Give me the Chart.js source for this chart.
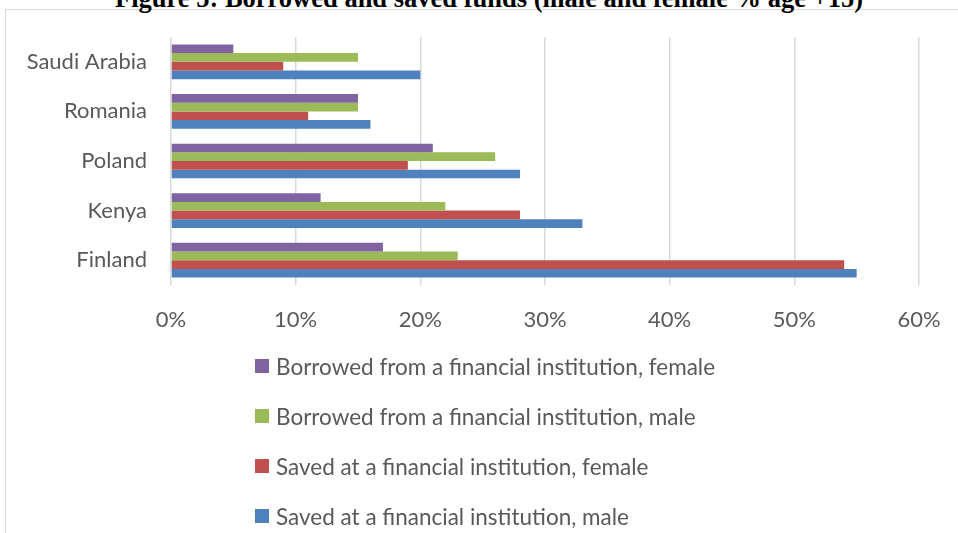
<!DOCTYPE html>
<html>
<head>
<meta charset="utf-8">
<script src="https://cdn.jsdelivr.net/npm/chart.js@4.4.0/dist/chart.umd.min.js"></script>
<style>
  body { margin: 0; background: #fff; }
  #wrap { position: relative; width: 958px; height: 533px; overflow: hidden; }
  #frame { position: absolute; left: 5px; top: 9px; width: 1000px; height: 600px; border: 1px solid #d9d9d9; }
  #title { position: absolute; left: 0; width: 978px; top: -15px; text-align: center;
           font: bold 26.5px "Liberation Serif"; line-height: 26.5px; white-space: nowrap; color: #000; }
  #chart { position: absolute; left: 0; top: 0; }
  #legend { position: absolute; left: 255px; top: 341px; font-family: Lato; font-size: 22.5px; color: #595959; }
  .item { height: 50px; display: flex; align-items: center; }
  .box { width: 14px; height: 14px; margin-right: 7px; }
</style>
</head>
<body>
<div id="wrap">
  <div id="frame"></div>
  <div id="title">Figure 5: Borrowed and saved funds (male and female % age +15)</div>
  <canvas id="chart" width="958" height="533"></canvas>
  <div id="legend"></div>
</div>
<script>
// data, top category first
const countries = ['Saudi Arabia', 'Romania', 'Poland', 'Kenya', 'Finland'];
const borrowedFemale = [5, 15, 21, 12, 17];
const borrowedMale = [15, 15, 26, 22, 23];
const savedFemale = [9, 11, 19, 28, 54];
const savedMale = [20, 16, 28, 33, 55];
const seriesNames = [
  'Borrowed from a financial institution, female',
  'Borrowed from a financial institution, male',
  'Saved at a financial institution, female',
  'Saved at a financial institution, male'
];
const seriesColors = ['#8064A2', '#9BBB59', '#C0504D', '#4F81BD'];
const xMax = 60;
const xStep = 10;

const labelFont = { family: 'Lato', size: 22 };
const textColor = '#595959';

const allSeries = [borrowedFemale, borrowedMale, savedFemale, savedMale];

const ctx = document.getElementById('chart').getContext('2d');
const chart = new Chart(ctx, {
  type: 'bar',
  data: {
    labels: countries,
    datasets: allSeries.map((vals, i) => ({
      label: seriesNames[i],
      data: vals,
      backgroundColor: seriesColors[i],
      borderWidth: 0,
      barPercentage: 1,
      categoryPercentage: 0.7
    }))
  },
  options: {
    indexAxis: 'y',
    responsive: false,
    animation: false,
    layout: { padding: { left: 0, right: 39, top: 37, bottom: 198 } },
    plugins: {
      legend: { display: false },
      tooltip: { enabled: false }
    },
    scales: {
      x: {
        min: 0,
        max: xMax,
        ticks: {
          stepSize: xStep,
          padding: 22,
          color: textColor,
          font: labelFont,
          maxRotation: 0,
          callback: v => v + '%'
        },
        grid: { color: '#d9d9d9', lineWidth: 1.5, drawTicks: false },
        border: { display: false },
        afterFit: s => { s.height = 50; s.paddingLeft = 0; s.paddingRight = 0; }
      },
      y: {
        ticks: { padding: 24, color: textColor, font: labelFont },
        grid: { display: false, drawTicks: false },
        border: { display: false },
        afterFit: s => { s.width = 171; s.paddingTop = 0; s.paddingBottom = 0; }
      }
    }
  }
});

// legend as a vertical list, same order as the datasets
const legendEl = document.getElementById('legend');
chart.data.datasets.forEach(ds => {
  const row = document.createElement('div');
  row.className = 'item';
  const box = document.createElement('span');
  box.className = 'box';
  box.style.background = ds.backgroundColor;
  const txt = document.createElement('span');
  txt.textContent = ds.label;
  row.appendChild(box);
  row.appendChild(txt);
  legendEl.appendChild(row);
});
</script>
</body>
</html>
